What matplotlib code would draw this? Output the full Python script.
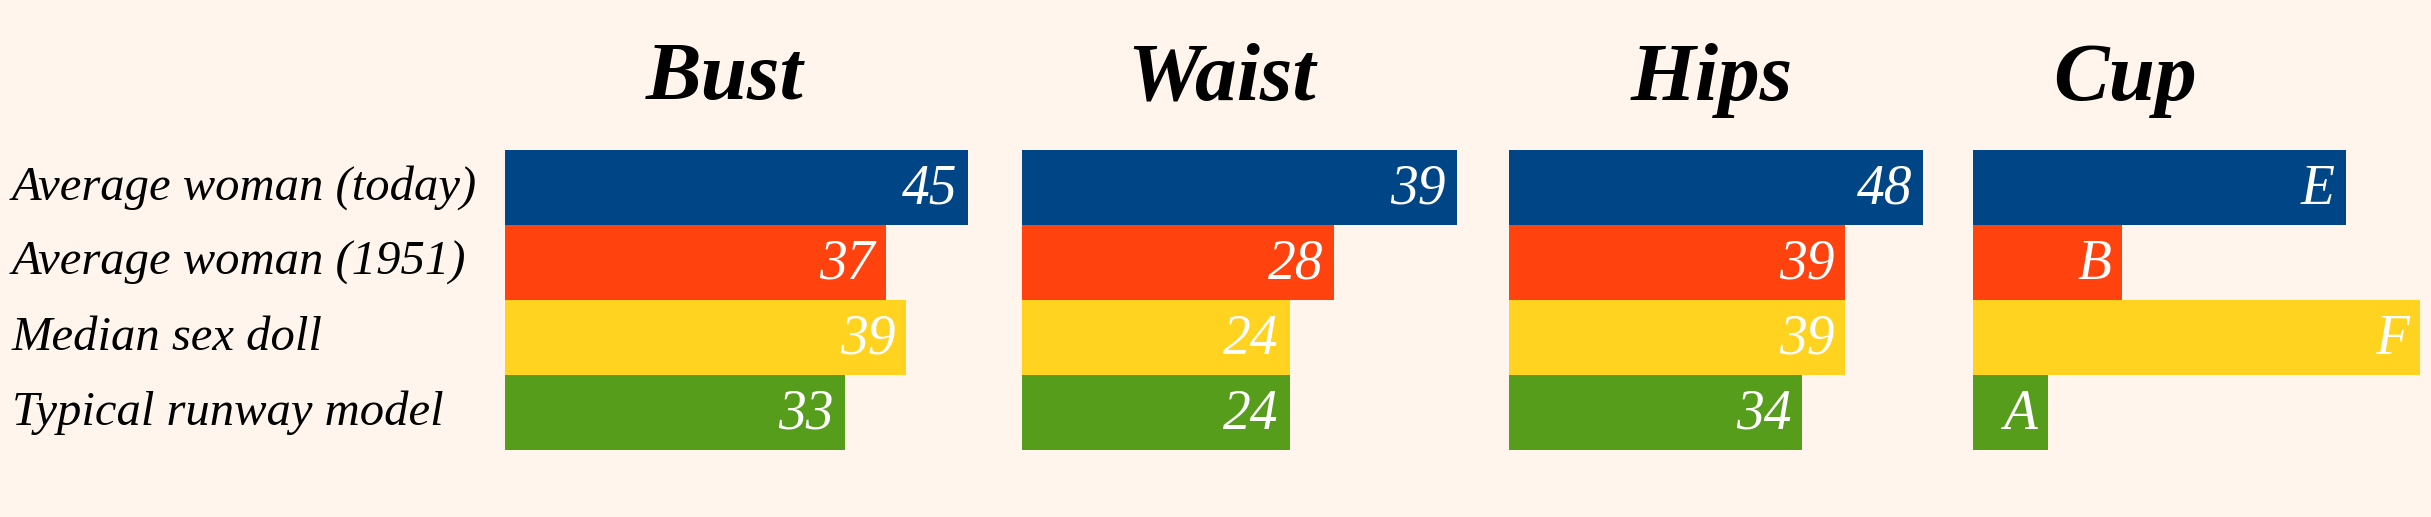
import matplotlib.pyplot as plt
import matplotlib.transforms as mtransforms

# ---- data ----
categories = ['Average woman (today)', 'Average woman (1951)',
              'Median sex doll', 'Typical runway model']
bust = [45, 37, 39, 33]
waist = [39, 28, 24, 24]
hips = [48, 39, 39, 34]
cup_size = [5, 2, 6, 1]          # A=1 ... F=6
cup_letters = ['E', 'B', 'F', 'A']

colors = ['#004586', '#ff420e', '#ffd320', '#579d1c']
bg = '#fff5ec'
font = 'Liberation Serif'

W, H = 2431, 517
fig = plt.figure(figsize=(W / 100, H / 100), dpi=100, facecolor=bg)

# panel boxes in pixels: (left, right), title centre x
panels = [
    ('Bust', bust, [str(v) for v in bust], (505, 968), 725),
    ('Waist', waist, [str(v) for v in waist], (1022, 1457), 1222),
    ('Hips', hips, [str(v) for v in hips], (1509, 1923), 1712),
    ('Cup', cup_size, cup_letters, (1973, 2420), 2125),
]
top_px, bot_px = 150, 450

axes = []
for title, vals, labels, (x0, x1), tx in panels:
    ax = fig.add_axes([x0 / W, 1 - bot_px / H, (x1 - x0) / W, (bot_px - top_px) / H])
    ax.set_facecolor(bg)
    y = list(range(len(vals)))
    ax.barh(y, vals, height=1.0, color=colors, linewidth=0)
    ax.set_xlim(0, max(vals))
    ax.set_ylim(len(vals) - 0.5, -0.5)
    ax.axis('off')
    # value labels inside bar end
    trans = ax.transData + mtransforms.ScaledTranslation(-11 / 100, 0, fig.dpi_scale_trans)
    for yi, v, lab in zip(y, vals, labels):
        ax.text(v, yi + 0.03, lab, transform=trans, ha='right', va='center',
                color='white', fontsize=40, fontstyle='italic', family=font)
    fig.text(tx / W, 1 - 80 / H, title, ha='center', va='center',
             fontsize=60, fontstyle='italic', fontweight='bold', family=font)
    axes.append(ax)

# category labels on the left
ax0 = axes[0]
tr = mtransforms.blended_transform_factory(fig.transFigure, ax0.transData)
for i, cat in enumerate(categories):
    ax0.text(12 / W, i, cat, transform=tr, ha='left', va='center',
             fontsize=35, fontstyle='italic', family=font)

fig.savefig('out.png', dpi=100, facecolor=bg)
